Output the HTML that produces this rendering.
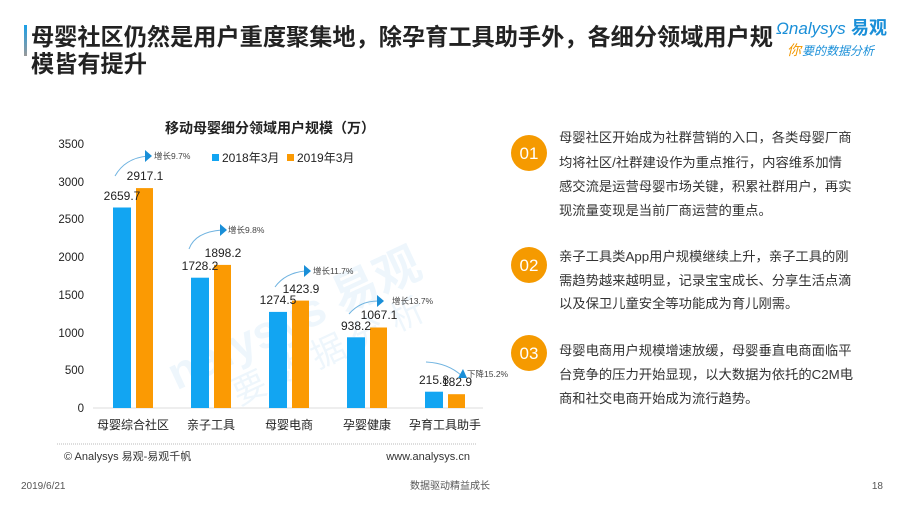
<!DOCTYPE html>
<html><head><meta charset="utf-8"><style>
body{margin:0;width:900px;height:506px;background:#fff;overflow:hidden;font-family:"Liberation Sans","Noto Sans CJK SC",sans-serif;}
</style></head><body>
<svg width="900" height="506" xmlns="http://www.w3.org/2000/svg" style="position:absolute;left:0;top:0;font-family:'Liberation Sans','Noto Sans CJK SC',sans-serif">
<defs><linearGradient id="g" x1="0" y1="0" x2="0" y2="1"><stop offset="0" stop-color="#1aa0e8"/><stop offset="1" stop-color="#999"/></linearGradient></defs>
<rect x="24" y="25" width="3" height="31" fill="url(#g)"/>
<text x="31" y="45" font-size="23.2" font-weight="bold" fill="#222">母婴社区仍然是用户重度聚集地，除孕育工具助手外，各细分领域用户规</text>
<text x="31" y="72" font-size="23.2" font-weight="bold" fill="#222">模皆有提升</text>
<text x="776" y="34" font-size="17" fill="#1a8fd8" font-style="italic">Ωnalysys</text>
<text x="851" y="34" font-size="18" font-weight="bold" fill="#1a8fd8">易观</text>
<text x="787" y="55" font-size="14" fill="#f39800" font-style="italic">你</text><text x="802" y="55" font-size="12" fill="#1a8fd8" font-style="italic">要的数据分析</text>
<!-- watermark -->
<g opacity="0.07" fill="#1a8fd8" transform="rotate(-25 300 300)"><text x="150" y="330" font-size="46" font-weight="bold">nalysys 易观</text><text x="200" y="370" font-size="34">要 数 据 分 析</text></g>
<text x="270" y="133" font-size="14" font-weight="bold" fill="#222" text-anchor="middle">移动母婴细分领域用户规模（万）</text>
<g font-size="11.5" fill="#222" text-anchor="end">
<text x="84" y="148">3500</text><text x="84" y="186">3000</text><text x="84" y="223">2500</text><text x="84" y="261">2000</text><text x="84" y="299">1500</text><text x="84" y="337">1000</text><text x="84" y="374">500</text><text x="84" y="412">0</text></g>
<line x1="93" y1="408" x2="483" y2="408" stroke="#ddd"/>
<rect x="212" y="154" width="7" height="7" fill="#12a5f2"/><text x="222" y="162" font-size="12" fill="#222">2018年3月</text>
<rect x="287" y="154" width="7" height="7" fill="#fb9a03"/><text x="297" y="162" font-size="12" fill="#222">2019年3月</text>
<g fill="#12a5f2"><rect x="113" y="207.5" width="18" height="200.5"/><rect x="191" y="277.7" width="18" height="130.3"/><rect x="269" y="311.9" width="18" height="96.1"/><rect x="347" y="337.3" width="18" height="70.7"/><rect x="425" y="391.7" width="18" height="16.3"/></g>
<g fill="#fb9a03"><rect x="136" y="188.1" width="17" height="219.9"/><rect x="214" y="264.9" width="17" height="143.1"/><rect x="292" y="300.6" width="17" height="107.4"/><rect x="370" y="327.5" width="17" height="80.5"/><rect x="448" y="394.2" width="17" height="13.8"/></g>
<g font-size="12" fill="#222" text-anchor="middle">
<text x="122" y="200">2659.7</text><text x="145" y="180">2917.1</text>
<text x="200" y="270">1728.2</text><text x="223" y="257">1898.2</text>
<text x="278" y="304">1274.5</text><text x="301" y="293">1423.9</text>
<text x="356" y="330">938.2</text><text x="379" y="319">1067.1</text>
<text x="434" y="384">215.8</text><text x="457" y="386">182.9</text></g>
<g fill="none" stroke="#6fb3e0" stroke-width="1">
<path d="M115 176 Q125 158 148 156"/><path d="M189 249 Q195 232 222 230"/><path d="M275 287 Q285 273 305 271"/><path d="M349 314 Q360 301 378 301"/><path d="M426 362 Q448 363 462 376"/></g>
<g fill="#1a8fd8"><path d="M145 150 L152 156 L145 162Z"/><path d="M220 224 L227 230 L220 236Z"/><path d="M304 265 L311 271 L304 277Z"/><path d="M377 295 L384 301 L377 307Z"/><path d="M458 378 L463 369 L467 378Z"/></g>
<g font-size="8.5" fill="#444"><text x="154" y="159">增长9.7%</text><text x="228" y="233">增长9.8%</text><text x="313" y="274">增长11.7%</text><text x="392" y="304">增长13.7%</text><text x="467" y="377">下降15.2%</text></g>
<g font-size="12" fill="#222" text-anchor="middle"><text x="133" y="429">母婴综合社区</text><text x="211" y="429">亲子工具</text><text x="289" y="429">母婴电商</text><text x="367" y="429">孕婴健康</text><text x="445" y="429">孕育工具助手</text></g>
<line x1="57" y1="444" x2="477" y2="444" stroke="#bbb" stroke-dasharray="1,1"/>
<text x="64" y="460" font-size="11" fill="#333">© Analysys 易观-易观千帆</text>
<text x="470" y="460" font-size="11" fill="#333" text-anchor="end">www.analysys.cn</text>
<text x="21" y="489" font-size="10" fill="#555">2019/6/21</text>
<text x="450" y="489" font-size="10" fill="#555" text-anchor="middle">数据驱动精益成长</text>
<text x="883" y="489" font-size="10" fill="#555" text-anchor="end">18</text>
<g fill="#f59a00"><circle cx="529" cy="153" r="18"/><circle cx="529" cy="265" r="18"/><circle cx="529" cy="353" r="18"/></g>
<g font-size="17" fill="#fff" text-anchor="middle"><text x="529" y="159">01</text><text x="529" y="271">02</text><text x="529" y="359">03</text></g>
<g font-size="13.3" fill="#333">
<text x="559" y="142">母婴社区开始成为社群营销的入口，各类母婴厂商</text>
<text x="559" y="167">均将社区/社群建设作为重点推行，内容维系加情</text>
<text x="559" y="191">感交流是运营母婴市场关键，积累社群用户，再实</text>
<text x="559" y="215">现流量变现是当前厂商运营的重点。</text>
<text x="559" y="261">亲子工具类App用户规模继续上升，亲子工具的刚</text>
<text x="559" y="285">需趋势越来越明显，记录宝宝成长、分享生活点滴</text>
<text x="559" y="308">以及保卫儿童安全等功能成为育儿刚需。</text>
<text x="559" y="355">母婴电商用户规模增速放缓，母婴垂直电商面临平</text>
<text x="559" y="379">台竞争的压力开始显现，以大数据为依托的C2M电</text>
<text x="559" y="403">商和社交电商开始成为流行趋势。</text>
</g>
</svg>
</body></html>
